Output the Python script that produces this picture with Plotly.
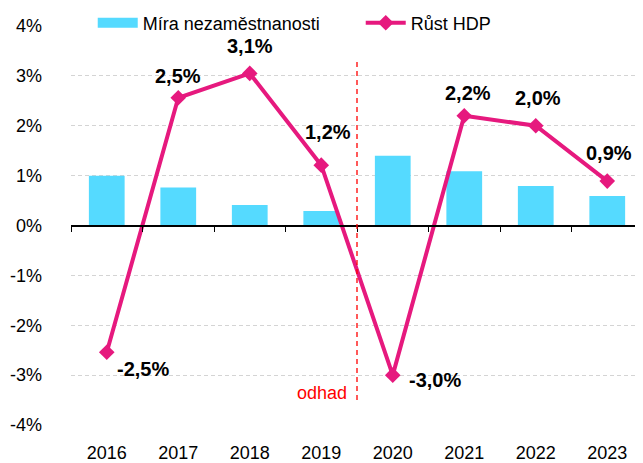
import plotly.graph_objects as go

years = ["2016", "2017", "2018", "2019", "2020", "2021", "2022", "2023"]
unemployment = [1.0, 0.76, 0.41, 0.29, 1.40, 1.09, 0.79, 0.59]
gdp_growth = [-2.54, 2.56, 3.05, 1.21, -3.0, 2.2, 2.0, 0.89]
gdp_labels = ["-2,5%", "2,5%", "3,1%", "1,2%", "-3,0%", "2,2%", "2,0%", "0,9%"]
y_ticks = [-4, -3, -2, -1, 0, 1, 2, 3, 4]
y_tick_labels = ["-4%", "-3%", "-2%", "-1%", "0%", "1%", "2%", "3%", "4%"]
estimate_label = "odhad"
series_names = ["Míra nezaměstnanosti", "Růst HDP"]

# label offsets (pixels) for the GDP data labels
label_xshift = [36, 0, 0, 7, 42, 4, 2, 2]
label_yshift = [-17, 22, 27, 33, -5, 23, 28, 28]

BAR_COLOR = "#55DAFF"
LINE_COLOR = "#E6197E"
FONT = "Liberation Sans, Arial, sans-serif"
XRANGE = [-0.5, len(years) - 0.5]

fig = go.Figure()
fig.add_trace(go.Bar(
    x=years, y=unemployment, name=series_names[0], showlegend=False,
    marker=dict(color=BAR_COLOR, line=dict(width=0)),
    xaxis="x", yaxis="y",
))
# legend-only entry giving the wide rectangle key used in the original
fig.add_trace(go.Scatter(
    x=[None], y=[None], name=series_names[0], mode="lines",
    line=dict(color=BAR_COLOR, width=10), xaxis="x", yaxis="y",
))
fig.add_trace(go.Scatter(
    x=years, y=gdp_growth, name=series_names[1], mode="lines+markers",
    line=dict(color=LINE_COLOR, width=4),
    marker=dict(symbol="diamond", size=12, color=LINE_COLOR),
    xaxis="x", yaxis="y",
))
# invisible helper trace for the zero axis with boundary ticks
fig.add_trace(go.Scatter(
    x=years, y=[0] * len(years), mode="markers", marker=dict(opacity=0),
    showlegend=False, hoverinfo="skip", xaxis="x2", yaxis="y",
))

annotations = []
for i, (v, lab) in enumerate(zip(gdp_growth, gdp_labels)):
    annotations.append(dict(
        x=i, y=v, xref="x", yref="y", text="<b>" + lab + "</b>",
        showarrow=False, xshift=label_xshift[i], yshift=label_yshift[i],
        font=dict(family=FONT, size=20, color="#000000"),
    ))
annotations.append(dict(
    x=3.5, y=-3.36, xref="x", yref="y", text=estimate_label,
    showarrow=False, xanchor="right", xshift=-8,
    font=dict(family=FONT, size=18, color="#FF0000"),
))

fig.update_layout(
    width=635, height=455,
    margin=dict(l=63, r=0, t=18, b=38, autoexpand=False),
    paper_bgcolor="white", plot_bgcolor="white",
    font=dict(family=FONT, size=18, color="#000000"),
    bargap=0.5,
    showlegend=True,
    legend=dict(
        orientation="h", x=0.038, xanchor="left", y=1.0075, yanchor="middle",
        font=dict(family=FONT, size=18, color="#000000"),
        bgcolor="rgba(0,0,0,0)", entrywidth=213, entrywidthmode="pixels",
        itemwidth=40,
    ),
    xaxis=dict(
        type="category", categoryorder="array", categoryarray=years,
        range=XRANGE,
        showgrid=False, showline=False, zeroline=False, ticks="",
        tickfont=dict(family=FONT, size=18), ticklabelstandoff=15,
    ),
    xaxis2=dict(
        type="category", categoryorder="array", categoryarray=years,
        range=XRANGE, overlaying="x", anchor="free", position=0.5,
        showgrid=False, showline=True, linecolor="#000000", linewidth=1.5,
        ticks="outside", tickson="boundaries", ticklen=6, tickwidth=1,
        tickcolor="#000000", showticklabels=False,
    ),
    yaxis=dict(
        range=[-4, 4], tickvals=y_ticks, ticktext=y_tick_labels,
        showgrid=True, gridcolor="#D4D4D4", griddash="4px,3px", gridwidth=1,
        zeroline=False, showline=False, ticks="",
        tickfont=dict(family=FONT, size=18), ticklabelstandoff=28,
    ),
    shapes=[dict(
        type="line", xref="x", yref="y", x0=3.5, x1=3.5, y0=-3.5, y1=3.32,
        line=dict(color="#FF0000", width=1.3, dash="5px,4px"),
    )],
    annotations=annotations,
)

fig.write_html("out.html")
